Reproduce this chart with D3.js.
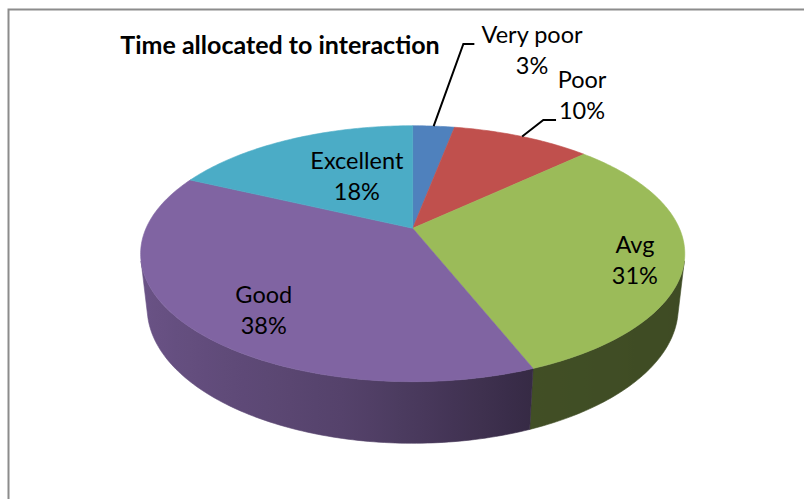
<!DOCTYPE html>
<html><head><meta charset="utf-8">
<script src="https://cdn.jsdelivr.net/npm/d3@7"></script>
<style>body{margin:0;background:#fff;} svg{display:block;}</style>
</head><body>
<script>
// ---- data ----
const categories = ["Very poor", "Poor", "Avg", "Good", "Excellent"];
const values = [3, 10, 31, 38, 18];
const colors = ["#4F81BD", "#C0504D", "#9BBB59", "#8064A2", "#4BACC6"];
const chartTitle = "Time allocated to interaction";

// ---- layout ----
const W = 804, H = 499;
const FONT = "Lato, 'Open Sans', sans-serif";
// perspective projection of a unit-radius cylinder (pie)
const P = {cx: 412.7, cy: 228.3, f: 1192, s: 0.461, c: 0.887, D: 4.47, depth: 0.2304};
function proj(a, r, h) {
  const x = r * Math.sin(a), z = -r * Math.cos(a);
  const v = h * P.c - z * P.s;
  const w = P.D - (z * P.c + h * P.s);
  return [P.cx + P.f * x / w, P.cy - P.f * v / w];
}
// label placement: inside labels by (angle offset deg, radius); outside ones by leader line
const labelLayout = [
  {outside: true, elbow: [29.7, -82.1], run: 11, text: [57.7, -1.3]},
  {outside: true, elbow: [21.2, -16.5], run: 12.7, text: [26, -32]},
  {da: 4.7, r: 0.83},
  {da: -7, r: 0.77},
  {da: 5.8, r: 0.51}
];

const svg = d3.select("body").append("svg").attr("width", W).attr("height", H);
const defs = svg.append("defs");

// border
svg.append("rect").attr("x", 8.5).attr("y", 9.5).attr("width", W).attr("height", H)
  .attr("fill", "#fff").attr("stroke", "#8c8c8c").attr("stroke-width", 2);

const arcs = d3.pie().sort(null).value(d => d)(values);
const total = d3.sum(values);

const k = 1 / (P.D * P.c);
const vis0 = Math.acos(-k), vis1 = 2 * Math.PI - Math.acos(-k);
const shade = d3.scaleLinear().domain([-1, -0.2, 0.37, 1]).range([0.84, 0.66, 0.42, 0.40]).clamp(true);
const line = d3.line();

function sample(a0, a1, r, h, n) {
  const pts = [];
  for (let i = 0; i <= n; i++) pts.push(proj(a0 + (a1 - a0) * i / n, r, h));
  return pts;
}

// sides
const gSide = svg.append("g");
arcs.forEach((d, i) => {
  const b0 = Math.max(d.startAngle, vis0), b1 = Math.min(d.endAngle, vis1);
  if (b1 <= b0) return;
  const n = Math.max(8, Math.ceil((b1 - b0) * 60));
  const top = sample(b0, b1, 1, 0, n);
  const bot = sample(b1, b0, 1, -P.depth, n);
  const x1 = top[0][0], x2 = top[top.length - 1][0];
  const gid = "side" + i;
  const grad = defs.append("linearGradient").attr("id", gid)
    .attr("gradientUnits", "userSpaceOnUse")
    .attr("x1", x1).attr("x2", x2).attr("y1", 0).attr("y2", 0);
  const base = d3.rgb(colors[i]);
  for (let j = 0; j <= 20; j++) {
    const a = b0 + (b1 - b0) * j / 20;
    const px = proj(a, 1, 0)[0];
    const fct = shade(Math.sin(a));
    grad.append("stop").attr("offset", (px - x1) / (x2 - x1))
      .attr("stop-color", d3.rgb(base.r * fct, base.g * fct, base.b * fct));
  }
  gSide.append("path").attr("d", line(top.concat(bot)) + "Z")
    .attr("fill", `url(#${gid})`).attr("stroke", `url(#${gid})`).attr("stroke-width", 0.6);
});

// top faces
const gTop = svg.append("g");
arcs.forEach((d, i) => {
  const n = Math.max(4, Math.ceil((d.endAngle - d.startAngle) * 60));
  const pts = [proj(0, 0, 0)].concat(sample(d.startAngle, d.endAngle, 1, 0, n));
  gTop.append("path").attr("d", line(pts) + "Z")
    .attr("fill", colors[i]).attr("stroke", colors[i]).attr("stroke-width", 0.6);
});

// labels
const gLab = svg.append("g").attr("font-family", FONT).attr("font-size", 23.5).attr("fill", "#000");
arcs.forEach((d, i) => {
  const L = labelLayout[i];
  const pct = Math.round(values[i] / total * 100) + "%";
  const mid = (d.startAngle + d.endAngle) / 2;
  if (L.outside) {
    const s = proj(mid, 1, 0);
    const e = [s[0] + L.elbow[0], s[1] + L.elbow[1]];
    const t = [e[0] + L.run, e[1]];
    svg.append("path").attr("d", line([s, e, t])).attr("fill", "none")
      .attr("stroke", "#000").attr("stroke-width", 2);
    const cx = t[0] + L.text[0], by = t[1] + L.text[1];
    gLab.append("text").attr("x", cx).attr("y", by).attr("text-anchor", "middle").text(categories[i]);
    gLab.append("text").attr("x", cx).attr("y", by + 31).attr("text-anchor", "middle").text(pct);
  } else {
    const p = proj(mid + L.da * Math.PI / 180, L.r, 0);
    gLab.append("text").attr("x", p[0]).attr("y", p[1] - 7.5).attr("text-anchor", "middle").text(categories[i]);
    gLab.append("text").attr("x", p[0]).attr("y", p[1] + 23.5).attr("text-anchor", "middle").text(pct);
  }
});

// title
svg.append("text").attr("x", 280).attr("y", 54).attr("text-anchor", "middle")
  .attr("font-family", FONT).attr("font-weight", "bold").attr("font-size", 25)
  .attr("fill", "#000").text(chartTitle);
</script>
</body></html>
